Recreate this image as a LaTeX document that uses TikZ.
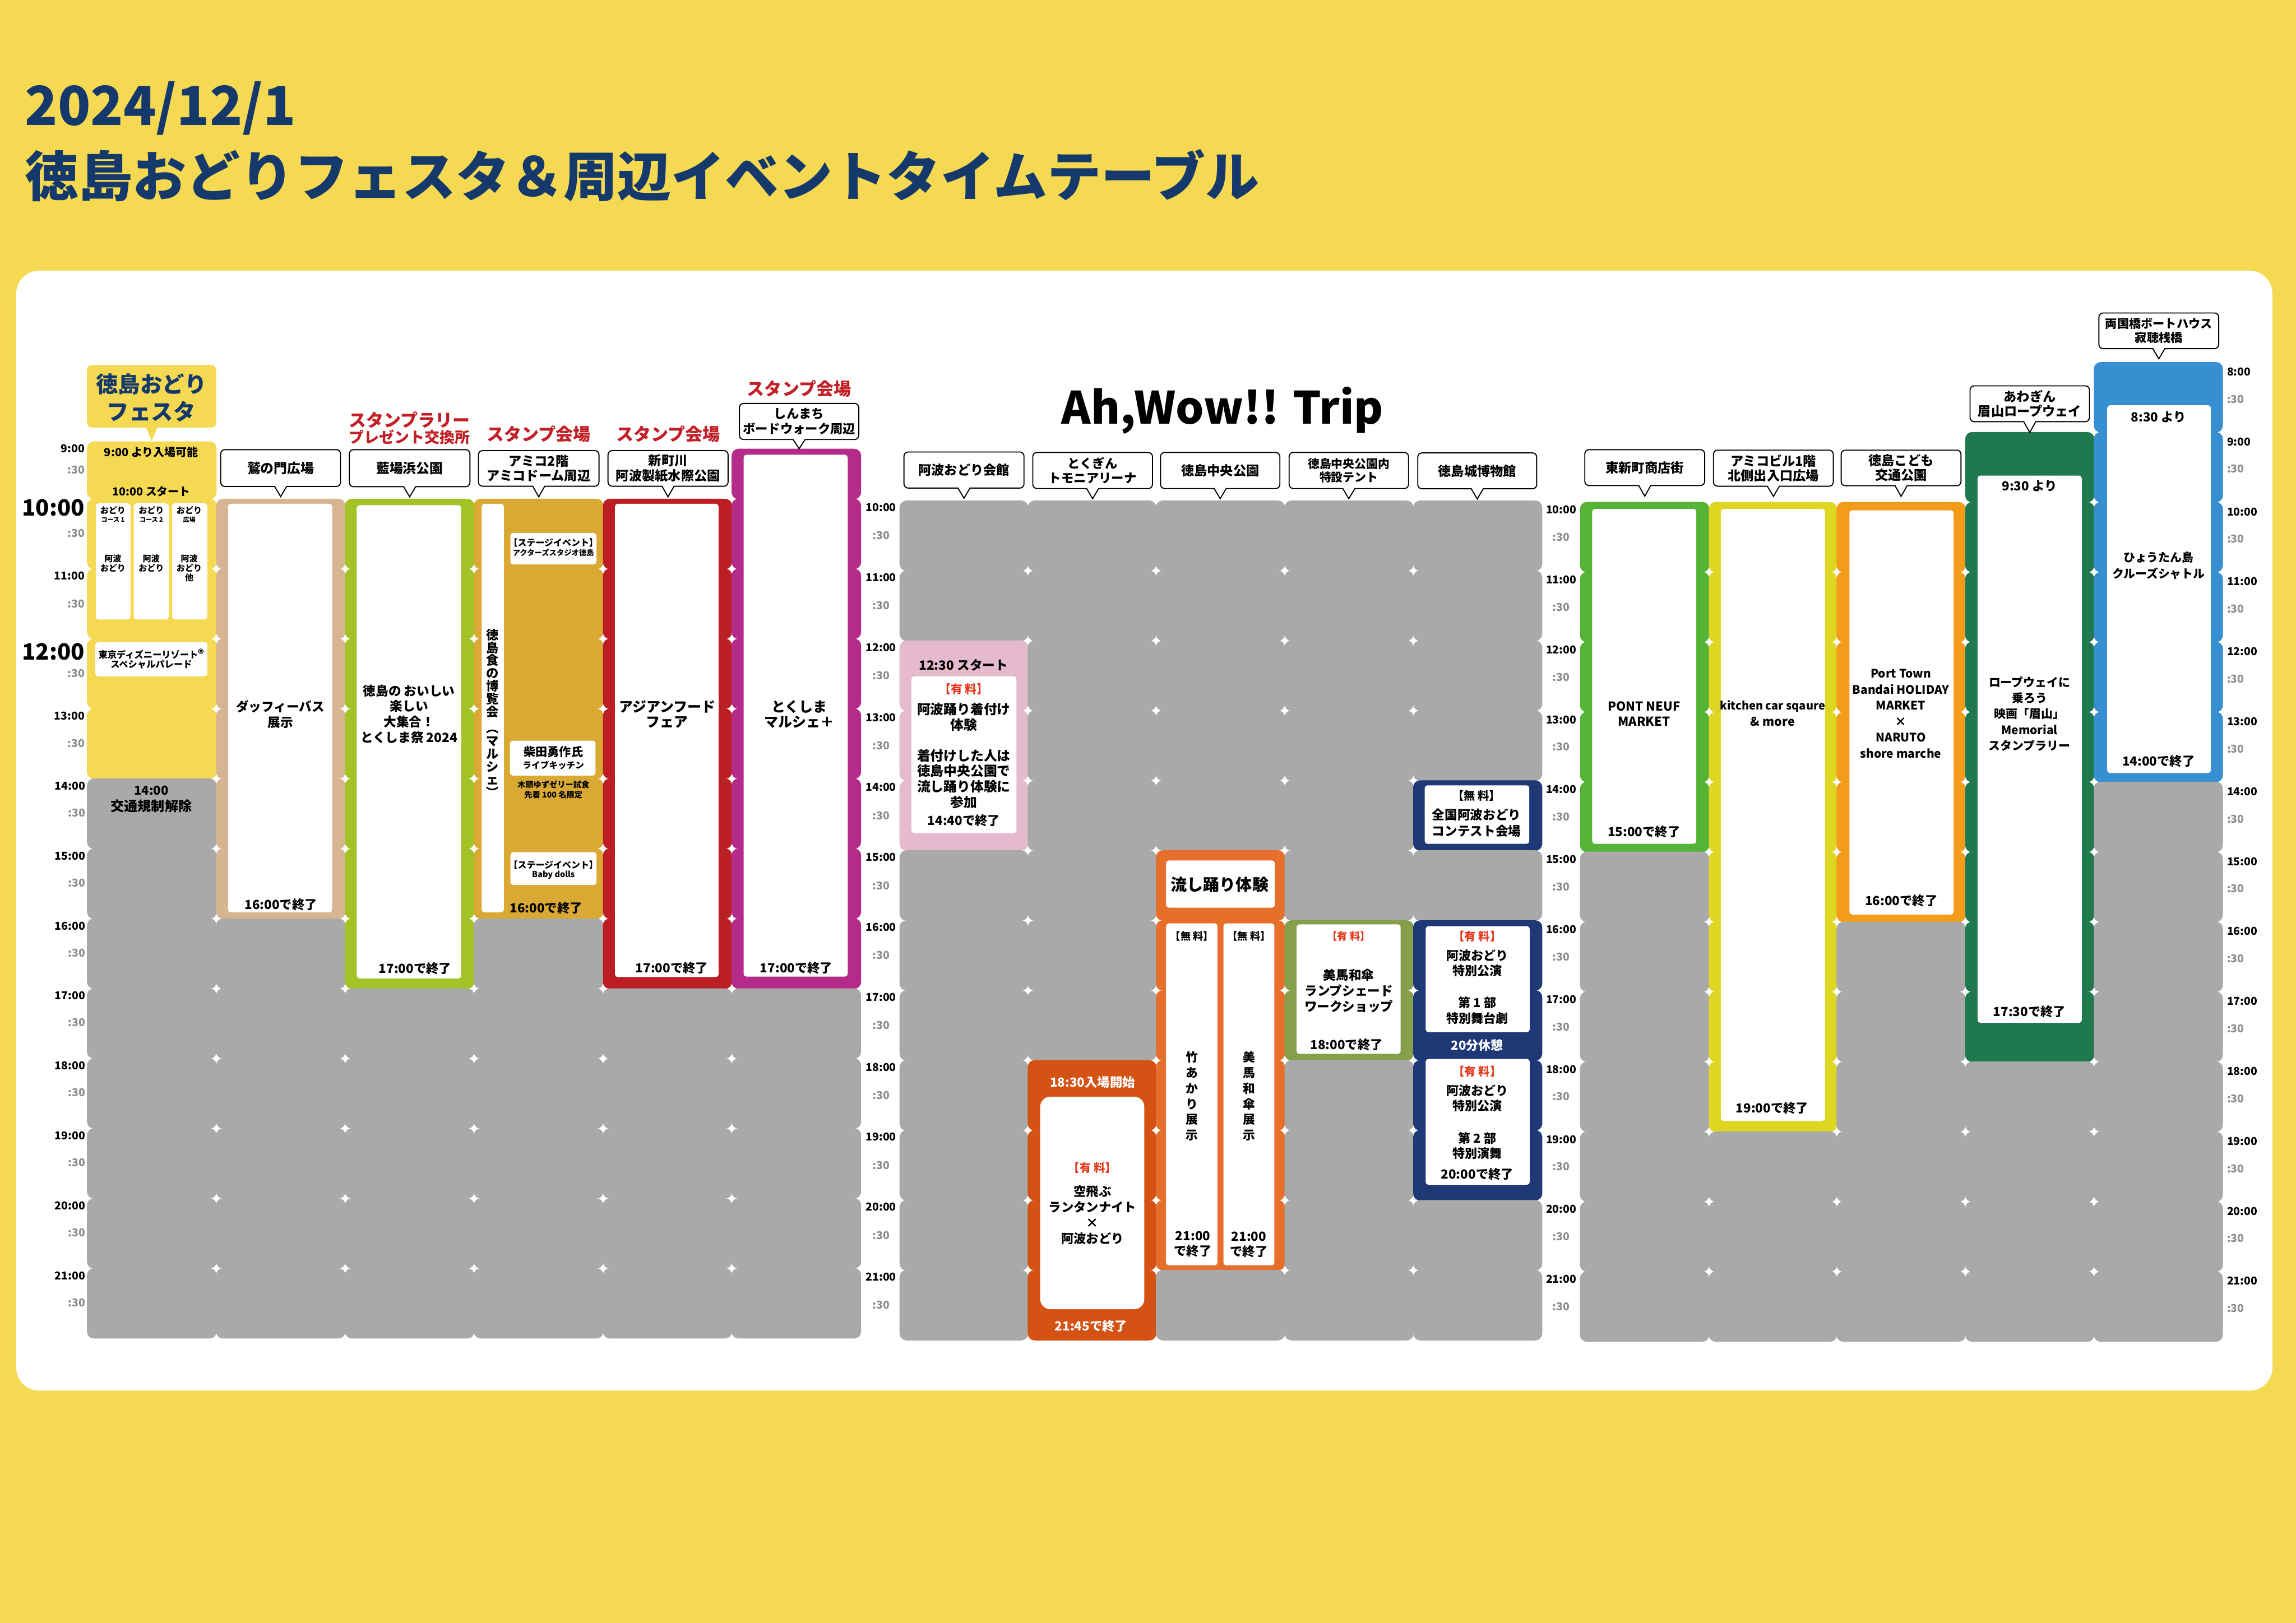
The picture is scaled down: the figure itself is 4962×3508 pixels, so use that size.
\documentclass[tikz,border=0pt]{standalone}
\usepackage{fontspec}
\setmainfont{Noto Sans CJK JP}[BoldFont={Noto Sans CJK JP Black}]
\definecolor{bgy}{HTML}{F5D952}
\definecolor{navyt}{HTML}{15396B}
\definecolor{cgray}{HTML}{A9A9A9}
\definecolor{ctan}{HTML}{D7B592}
\definecolor{cgrn}{HTML}{A2C226}
\definecolor{cgold}{HTML}{D9A933}
\definecolor{cred}{HTML}{BB1E23}
\definecolor{cmag}{HTML}{B42B8A}
\definecolor{cpink}{HTML}{E5BACD}
\definecolor{cdko}{HTML}{D55215}
\definecolor{cora}{HTML}{E56F2B}
\definecolor{coli}{HTML}{859F4B}
\definecolor{cnav}{HTML}{1F3876}
\definecolor{clgr}{HTML}{56B335}
\definecolor{cyl}{HTML}{DFD523}
\definecolor{cor2}{HTML}{F39C19}
\definecolor{cdkg}{HTML}{20784F}
\definecolor{cblu}{HTML}{368FD0}
\definecolor{tred}{HTML}{C31F26}
\definecolor{tfee}{HTML}{E63A1E}
\definecolor{tgray}{HTML}{8C8C8C}
\newcounter{nid}
\tikzset{
  txt/.style={anchor=north,align=center,inner sep=0pt,outer sep=0pt},
  timehr/.style={inner sep=0pt,outer sep=0pt,font=\bfseries\fontsize{6.7}{8}\selectfont,text=black},
  timehf/.style={inner sep=0pt,outer sep=0pt,font=\bfseries\fontsize{6.7}{8}\selectfont,text=tgray},
  calloutbody/.style={draw=black,fill=white,line width=.65pt,rounded corners=.09cm,inner sep=0pt,outer sep=0pt,align=center,font=\bfseries\fontsize{8}{9.1}\selectfont},
  inbox/.style={fill=white,rounded corners=.06cm}
}
% colour, x, y of first line's centre, size, leading (pt), text
\newcommand{\tx}[6][black]{\stepcounter{nid}\node[txt,text=#1,font=\bfseries\fontsize{#4}{#5}\selectfont] (t\arabic{nid}) at (#2,{#3-1.757*#4}) {\rule{0pt}{.88em}#6};}
\newcommand{\hcell}[5]{\fill[#5,rounded corners=.15cm] (#1,#3) rectangle ({#2+1},{#4+1});}
% x0,x1,ybase,k0,k1,colour
\newcommand{\cols}[6]{\foreach \k in {#4,...,#5}{\pgfmathsetmacro\ya{#3+151.2*\k}\pgfmathsetmacro\yb{#3+151.2*(\k+1)}\hcell{#1}{#2}{\ya}{\yb}{#6}}}
\newcommand{\ibox}[4]{\fill[inbox] (#1,#2) rectangle (#3,#4);}
% name, x0, y0, x1, y1, tail depth, size, leading, text
\newcommand{\callout}[9]{\node[calloutbody,minimum width={(#4-#2)*0.01cm},minimum height={(#5-#3)*0.01cm},font=\bfseries\fontsize{#7}{#8}\selectfont] (#1) at ({(#2+#4)/2},{(#3+#5)/2}) {#9};
  \fill[white] ([xshift=-.12cm,yshift=.03cm]#1.south) -- ([xshift=-.12cm]#1.south) -- ([yshift={-#6*0.01cm}]#1.south) -- ([xshift=.12cm]#1.south) -- ([xshift=.12cm,yshift=.03cm]#1.south) -- cycle;
  \draw[line width=.65pt,line join=miter] ([xshift=-.13cm]#1.south) -- ([yshift={-#6*0.01cm}]#1.south) -- ([xshift=.13cm]#1.south);}
\begin{document}
\begin{tikzpicture}[x=0.01cm,y=-0.01cm]
\useasboundingbox (0,0) rectangle (4962,3508);
\fill[bgy] (0,0) rectangle (4962,3508);
\fill[white,rounded corners=.5cm] (35,585) rectangle (4911,3006);
\node[txt,anchor=west,text=navyt,font=\bfseries\fontsize{33.1}{40}\selectfont] (date) at (54,234) {2024/12/1};
\node[txt,anchor=west,text=navyt,font=\bfseries\fontsize{33.1}{40}\selectfont] (title) at (54,380) {徳島おどりフェスタ＆周辺イベントタイムテーブル};
\tx{2642}{880}{27.4}{30}{Ah,Wow!! Trip}

% ---------- group 1 cells
\hcell{188}{467}{954}{1078}{bgy}
\cols{188}{467}{1078}{0}{3}{bgy}
\cols{188}{467}{1078}{4}{11}{cgray}
\cols{467}{745.5}{1078}{0}{5}{ctan}
\cols{467}{745.5}{1078}{6}{11}{cgray}
\cols{745.5}{1024}{1078}{0}{6}{cgrn}
\cols{745.5}{1024}{1078}{7}{11}{cgray}
\cols{1024}{1303}{1078}{0}{5}{cgold}
\cols{1024}{1303}{1078}{6}{11}{cgray}
\cols{1303}{1581}{1078}{0}{6}{cred}
\cols{1303}{1581}{1078}{7}{11}{cgray}
\hcell{1581}{1860}{970}{1078}{cmag}
\cols{1581}{1860}{1078}{0}{6}{cmag}
\cols{1581}{1860}{1078}{7}{11}{cgray}
% ---------- group 2 cells
\cols{1944}{2221}{1082}{0}{1}{cgray}
\cols{1944}{2221}{1082}{2}{4}{cpink}
\cols{1944}{2221}{1082}{5}{11}{cgray}
\cols{2221}{2498}{1082}{0}{7}{cgray}
\cols{2221}{2498}{1082}{8}{11}{cdko}
\cols{2498}{2776}{1082}{0}{4}{cgray}
\cols{2498}{2776}{1082}{5}{10}{cora}
\cols{2498}{2776}{1082}{11}{11}{cgray}
\cols{2776}{3054}{1082}{0}{5}{cgray}
\cols{2776}{3054}{1082}{6}{7}{coli}
\cols{2776}{3054}{1082}{8}{11}{cgray}
\cols{3054}{3332}{1082}{0}{3}{cgray}
\cols{3054}{3332}{1082}{4}{4}{cnav}
\cols{3054}{3332}{1082}{5}{5}{cgray}
\cols{3054}{3332}{1082}{6}{9}{cnav}
\cols{3054}{3332}{1082}{10}{11}{cgray}
% ---------- group 3 cells
\cols{3414.5}{3693}{1085}{0}{4}{clgr}
\cols{3414.5}{3693}{1085}{5}{11}{cgray}
\cols{3693}{3969}{1085}{0}{8}{cyl}
\cols{3693}{3969}{1085}{9}{11}{cgray}
\cols{3969}{4247}{1085}{0}{5}{cor2}
\cols{3969}{4247}{1085}{6}{11}{cgray}
\cols{4247}{4525}{1085}{-1}{7}{cdkg}
\cols{4247}{4525}{1085}{8}{11}{cgray}
\cols{4525}{4803}{1085}{-2}{3}{cblu}
\cols{4525}{4803}{1085}{4}{11}{cgray}

% ---------- time labels, group 1
\node[timehr,anchor=east] (h9) at (183,970) {9:00};
\node[timehf,anchor=east] (h9h) at (183,1016) {:30};
\node[timehr,anchor=east,font=\bfseries\fontsize{13.8}{16}\selectfont] (h10) at (183,1098) {10:00};
\node[timehf,anchor=east] (h10h) at (183,1153) {:30};
\node[timehr,anchor=east] (h11) at (183,1245) {11:00};
\node[timehf,anchor=east] (h11h) at (183,1305) {:30};
\node[timehr,anchor=east,font=\bfseries\fontsize{13.8}{16}\selectfont] (h12) at (183,1409) {12:00};
\node[timehf,anchor=east] (h12h) at (183,1456) {:30};
\node[timehr,anchor=east] (h13) at (183,1548) {13:00};
\node[timehf,anchor=east] (h13h) at (183,1607) {:30};
\foreach \h in {14,...,21}{
  \pgfmathsetmacro\yy{1699+151.2*(\h-14)}
  \node[timehr,anchor=east] (ga\h) at (184,\yy) {\h:00};
  \node[timehf,anchor=east] (gah\h) at (184,\yy+58) {:30};
}
\foreach \h in {10,...,21}{
  \pgfmathsetmacro\yy{1097+151.2*(\h-10)}
  \node[timehr] (gb\h) at (1904,\yy) {\h:00};
  \node[timehf] (gbh\h) at (1904,\yy+61) {:30};
  \pgfmathsetmacro\yz{1102+151.2*(\h-10)}
  \node[timehr] (gc\h) at (3374,\yz) {\h:00};
  \node[timehf] (gch\h) at (3374,\yz+59) {:30};
}
\foreach \h in {8,...,21}{
  \pgfmathsetmacro\yy{1106+151.2*(\h-10)}
  \node[timehr,anchor=west] (gd\h) at (4813,\yy) {\h:00};
  \node[timehf,anchor=west] (gdh\h) at (4813,\yy+59) {:30};
}

% ---------- festa
\fill[bgy,rounded corners=.1cm] (188,789) rectangle (467,924);
\fill[bgy] (314,920) -- (328,953) -- (342,920) -- cycle;
\tx[navyt]{327}{830}{13.6}{17}{徳島おどり\\フェスタ}
\tx{327}{977}{6.9}{8}{9:00 より入場可能}
\tx{327}{1062}{6.8}{8}{10:00 スタート}
\ibox{207}{1088}{282}{1339}
\ibox{289}{1088}{365}{1339}
\ibox{372}{1088}{448}{1339}
\tx{244}{1103}{5.2}{6}{おどり}
\tx{244}{1123}{3.8}{5}{コース 1}
\tx{244}{1207}{5.2}{6}{阿波\\おどり}
\tx{327}{1103}{5.2}{6}{おどり}
\tx{327}{1123}{3.8}{5}{コース 2}
\tx{327}{1207}{5.2}{6}{阿波\\おどり}
\tx{409}{1103}{5.2}{6}{おどり}
\tx{409}{1123}{3.8}{5}{広場}
\tx{409}{1207}{5.2}{6}{阿波\\おどり\\他}
\ibox{206}{1388}{448}{1462}
\tx{327}{1413}{5.6}{5.7}{東京ディズニーリゾート{\fontsize{7}{5.7}\selectfont ®}\\スペシャルパレード}
\tx{327}{1708}{7.6}{9}{14:00}
\tx{327}{1742}{8.3}{9}{交通規制解除}

% ---------- venues group 1
\callout{ca}{477}{972}{736}{1051.5}{22}{8.2}{9}{鷲の門広場}
\ibox{493}{1089}{718}{1972}
\tx{606}{1527}{7.8}{9.8}{ダッフィーバス\\展示}
\tx{607}{1955}{7.7}{9}{16:00で終了}

\tx[tred]{885}{908}{10.7}{11}{スタンプラリー}
\tx[tred]{885}{945}{9.3}{11}{プレゼント交換所}
\callout{cb}{755}{972}{1015.6}{1052}{22}{8.2}{9}{藍場浜公園}
\ibox{771}{1092}{996.5}{2115}
\tx{884}{1493}{7.8}{9.6}{徳島の おいしい\\楽しい\\大集合！\\とくしま祭 2024}
\tx{897}{2093}{7.7}{9}{17:00で終了}

\tx[tred]{1164}{938}{10.7}{12}{スタンプ会場}
\callout{cc}{1034}{974}{1294.5}{1051}{23}{8}{9.1}{アミコ2階\\アミコドーム周辺}
\ibox{1041}{1089}{1089}{1972}
\tx{1065}{1372}{7.7}{7.9}{徳\\島\\食\\の\\博\\覧\\会\\[2pt]︵\\マ\\ル\\シ\\ェ\\︶}
\ibox{1103}{1152}{1289}{1220}
\tx{1196}{1173}{5.5}{6.2}{【ステージイベント】}
\tx{1196}{1195}{4.6}{5.2}{アクターズスタジオ徳島}
\ibox{1102}{1601}{1287}{1676.5}
\tx{1196}{1625}{7.3}{8}{柴田勇作氏}
\tx{1196}{1654}{5.4}{6}{ライブキッチン}
\tx{1196}{1695.5}{4.9}{6.2}{木頭ゆずゼリー試食\\先着 100 名限定}
\ibox{1103}{1842}{1289}{1913}
\tx{1196}{1870}{5.5}{6.2}{【ステージイベント】}
\tx{1196}{1890}{5}{6}{Baby dolls}
\tx{1180}{1962}{7.7}{9}{16:00で終了}

\tx[tred]{1444}{938}{10.7}{12}{スタンプ会場}
\callout{cd}{1314}{974}{1573.5}{1051}{23}{8}{9.1}{新町川\\阿波製紙水際公園}
\ibox{1329}{1089}{1553}{2112}
\tx{1442}{1527}{8.6}{9.4}{アジアンフード\\フェア}
\tx{1452}{2092}{7.7}{9}{17:00で終了}

\tx[tred]{1727}{840}{10.7}{12}{スタンプ会場}
\callout{ce}{1598}{872}{1856}{950}{20}{7.7}{9.1}{しんまち\\ボードウォーク周辺}
\ibox{1607}{983}{1832}{2111}
\tx{1727}{1527}{8.6}{9.4}{とくしま\\マルシェ＋}
\tx{1721}{2092}{7.7}{9}{17:00で終了}

% ---------- venues group 2
\callout{cf}{1953.6}{977}{2213}{1055}{22}{8}{9}{阿波おどり会館}
\tx{2082}{1437.5}{7.8}{9}{12:30 スタート}
\ibox{1970}{1462}{2196.6}{1801}
\tx[tfee]{2083}{1490}{7.2}{9}{【有 料】}
\tx{2083}{1533}{8.2}{9.6}{阿波踊り着付け\\体験}
\tx{2083}{1633}{8.2}{9.6}{着付けした人は\\徳島中央公園で\\流し踊り体験に\\参加}
\tx{2083}{1773.5}{7.7}{9}{14:40で終了}

\callout{cg}{2232}{978}{2490.6}{1056}{22}{7.7}{9.1}{とくぎん\\トモニアリーナ}
\tx[white]{2361}{2339}{7.7}{9}{18:30入場開始}
\fill[white,rounded corners=.22cm] (2248,2370.6) rectangle (2473,2830);
\tx[tfee]{2361}{2524.6}{7}{9}{【有 料】}
\tx{2361}{2575}{7.7}{9.7}{空飛ぶ\\ランタンナイト\\×\\阿波おどり}
\tx[white]{2358}{2866}{7.7}{9}{21:45で終了}

\callout{ch}{2508}{978}{2766}{1056}{22}{8}{9}{徳島中央公園}
\ibox{2520}{1860}{2755}{1962}
\tx{2636}{1912}{10}{11}{流し踊り体験}
\ibox{2520}{1996}{2631}{2735}
\ibox{2644}{1996}{2754}{2735}
\tx{2576}{2024}{6.3}{8}{【無 料】}
\tx{2699}{2024}{6.3}{8}{【無 料】}
\tx{2576}{2285}{7.5}{9.6}{竹\\あ\\か\\り\\展\\示}
\tx{2699}{2285}{7.5}{9.6}{美\\馬\\和\\傘\\展\\示}
\tx{2578}{2670.6}{7.7}{9.4}{21:00\\で終了}
\tx{2699}{2672}{7.7}{9.4}{21:00\\で終了}

\callout{ci}{2786}{978}{3044}{1056}{22}{7.2}{8.6}{徳島中央公園内\\特設テント}
\ibox{2802}{1998}{3027}{2278}
\tx[tfee]{2915}{2024}{6.3}{8}{【有 料】}
\tx{2915}{2108}{7.8}{9.6}{美馬和傘\\ランプシェード\\ワークショップ}
\tx{2910}{2258}{7.7}{9}{18:00で終了}

\callout{cj}{3064}{979}{3321}{1056.5}{22}{8}{9}{徳島城博物館}
\ibox{3079}{1697.5}{3305}{1824}
\tx{3191}{1720}{7}{9}{【無 料】}
\tx{3191}{1761}{7.8}{9.9}{全国阿波おどり\\コンテスト会場}
\ibox{3081}{2002}{3306}{2231}
\tx[tfee]{3192.6}{2024}{7}{9}{【有 料】}
\tx{3192.6}{2065}{7.6}{9.6}{阿波おどり\\特別公演}
\tx{3192.6}{2167}{7.6}{9.6}{第 1 部\\特別舞台劇}
\tx[white]{3192.6}{2260}{7.6}{9}{20分休憩}
\ibox{3081}{2289}{3306}{2561}
\tx[tfee]{3192.6}{2315.6}{7}{9}{【有 料】}
\tx{3192.6}{2357}{7.6}{9.6}{阿波おどり\\特別公演}
\tx{3192.6}{2460}{7.6}{9.6}{第 2 部\\特別演舞}
\tx{3192.6}{2538.5}{7.7}{9}{20:00で終了}

% ---------- venues group 3
\callout{ck}{3425}{972}{3684}{1049.5}{23}{8}{9}{東新町商店街}
\ibox{3441}{1100}{3666}{1824}
\tx{3553}{1526}{7.6}{9.5}{PONT NEUF\\MARKET}
\tx{3553}{1798}{7.7}{9}{15:00で終了}

\callout{cl}{3703}{973}{3962}{1051}{22}{8}{9.1}{アミコビル1階\\北側出入口広場}
\ibox{3719}{1100}{3944}{2423}
\tx{3831}{1525}{6.9}{10}{kitchen car sqaure}
\tx{3831}{1560}{7.4}{10}{\& more}
\tx{3830}{2395}{7.7}{9}{19:00で終了}

\callout{cm}{3979}{973}{4238}{1050}{23}{8}{9.1}{徳島こども\\交通公園}
\ibox{3997}{1103}{4222}{1977}
\tx{4108}{1456}{7.2}{9.8}{Port Town\\Bandai HOLIDAY\\MARKET\\×\\NARUTO\\shore marche}
\tx{4109}{1947}{7.7}{9}{16:00で終了}

\callout{cn}{4257.5}{834}{4515.6}{911.5}{23}{8}{9.1}{あわぎん\\眉山ロープウェイ}
\ibox{4274}{1028}{4499}{2211}
\tx{4386}{1050}{7.7}{9}{9:30 より}
\tx{4386}{1475}{7.2}{9.7}{ロープウェイに\\乗ろう\\映画「眉山」\\Memorial\\スタンプラリー}
\tx{4386}{2186}{7.7}{9}{17:30で終了}

\callout{co}{4536}{676.5}{4795}{753.6}{22}{7.3}{8.6}{両国橋ボートハウス\\寂聴桟橋}
\ibox{4554}{876}{4778}{1671}
\tx{4665}{901}{7.7}{9}{8:30 より}
\tx{4665}{1205}{7.2}{10}{ひょうたん島\\クルーズシャトル}
\tx{4665}{1644.5}{7.7}{9}{14:00で終了}
\end{tikzpicture}
\end{document}
